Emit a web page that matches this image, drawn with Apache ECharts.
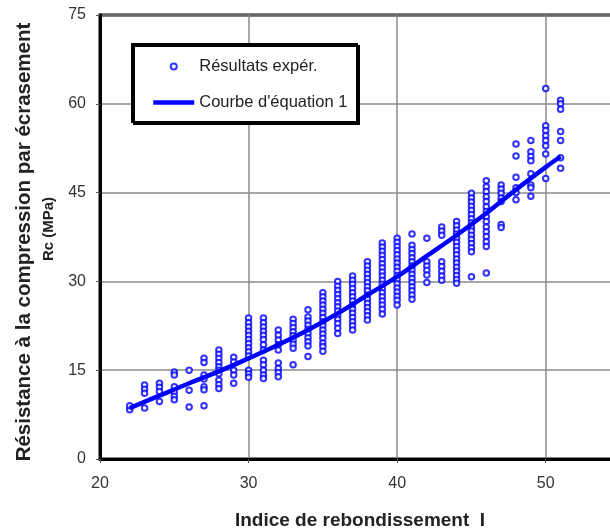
<!DOCTYPE html>
<html>
<head>
<meta charset="utf-8">
<script src="https://cdn.jsdelivr.net/npm/echarts@6/dist/echarts.min.js"></script>
<style>
  html, body { margin: 0; padding: 0; background: #fff; }
  #chart { width: 610px; height: 531px; }
</style>
</head>
<body>
<div id="chart"></div>
<script>
// Rebound index values (I) that were tested
var reboundIndex = [22, 23, 24, 25, 26, 27, 28, 29, 30, 31, 32, 33, 34, 35, 36,
                    37, 38, 39, 40, 41, 42, 43, 44, 45, 46, 47, 48, 49, 50, 51];

// Measured crushing strength Rc (MPa) for each rebound index above
var measuredRc = [
  [8.3, 9.0],
  [12.5, 11.8, 11.1, 8.6],
  [12.8, 12.1, 11.4, 9.7],
  [14.7, 14.2, 12.2, 11.3, 10.6, 10.0],
  [15.0, 11.6, 8.8],
  [17.0, 16.3, 14.2, 13.5, 12.2, 11.7, 9.0],
  [18.4, 17.7, 17.0, 16.3, 15.6, 15.0, 14.4, 13.3, 12.6, 11.9],
  [17.2, 16.4, 15.0, 14.2, 12.8],
  [23.8, 23.0, 22.3, 21.6, 20.9, 20.2, 19.5, 18.8, 18.1, 17.4, 15.0, 14.4, 13.8],
  [23.8, 23.0, 22.3, 21.6, 20.9, 20.2, 19.3, 18.4, 16.7, 15.9, 15.0, 14.2, 13.6],
  [21.8, 20.9, 20.1, 19.3, 18.4, 16.2, 15.3, 14.6, 13.9],
  [23.6, 22.9, 22.2, 21.5, 20.8, 20.1, 19.4, 18.7, 15.9],
  [25.2, 24.0, 23.3, 22.6, 21.9, 21.2, 20.5, 19.8, 19.1, 17.3],
  [28.1, 27.4, 26.7, 26.0, 25.3, 24.6, 23.9, 23.2, 22.5, 21.8, 21.1, 20.4, 19.6, 19.0, 18.2],
  [30.0, 29.2, 28.5, 27.8, 27.1, 26.4, 25.7, 25.0, 24.3, 23.6, 22.9, 22.1, 21.2],
  [30.9, 30.2, 29.5, 28.8, 28.1, 27.4, 26.7, 26.0, 25.3, 24.6, 23.9, 23.2, 22.5, 21.8],
  [33.3, 32.6, 31.9, 31.2, 30.5, 29.8, 29.1, 28.4, 27.7, 27.0, 26.3, 25.6, 24.9, 24.2, 23.5],
  [36.5, 35.8, 35.1, 34.4, 33.7, 33.0, 32.3, 31.6, 30.9, 30.2, 29.5, 28.8, 28.1, 27.4, 26.7, 26.0, 25.3, 24.5],
  [37.3, 36.6, 35.9, 35.2, 34.5, 33.8, 33.1, 32.4, 31.7, 31.0, 30.3, 29.6, 28.9, 28.2, 27.5, 26.8, 26.0],
  [38.0, 36.1, 35.4, 34.7, 34.0, 33.3, 32.6, 31.9, 31.2, 30.5, 29.8, 29.1, 28.4, 27.7, 27.0],
  [37.3, 33.3, 32.6, 31.9, 31.1, 29.8],
  [39.2, 38.5, 37.8, 33.3, 32.5, 31.7, 30.9, 30.2],
  [40.1, 39.4, 38.7, 38.0, 37.3, 36.6, 35.9, 35.2, 34.5, 33.8, 33.1, 32.4, 31.7, 31.0, 30.3, 29.7],
  [44.9, 44.1, 43.4, 42.7, 42.0, 41.3, 40.6, 39.9, 39.2, 38.5, 37.8, 37.1, 36.4, 35.7, 35.0, 30.8],
  [47.0, 46.0, 45.2, 44.3, 43.5, 42.6, 41.8, 40.9, 40.1, 39.2, 38.4, 37.6, 36.7, 35.9, 31.4],
  [46.3, 45.6, 44.9, 44.1, 43.5, 39.6, 39.1],
  [53.2, 51.2, 47.6, 45.8, 45.0, 43.8],
  [53.8, 51.9, 51.1, 50.4, 48.2, 46.3, 45.8, 44.4],
  [62.6, 56.3, 55.5, 54.6, 53.8, 52.9, 51.5, 47.4],
  [60.6, 60.0, 59.1, 55.3, 53.8, 50.9, 49.1]
];

// Points along the fitted curve (equation 1)
var curveIndex = [22, 24, 26, 28, 30, 32, 34, 36, 38, 40, 42, 44, 46, 48, 50, 51];
var curveRc    = [8.6, 10.7, 12.8, 14.8, 17.0, 19.3, 21.8, 24.6, 27.7, 30.8, 34.3, 37.8, 41.5, 45.5, 49.3, 51.1];

// Axis ticks
var xTicks = { min: 20, max: 55, step: 10 };
var yTicks = { min: 0, max: 75, step: 15 };

var scatterData = [];
reboundIndex.forEach(function (idx, i) {
  measuredRc[i].forEach(function (rc) { scatterData.push([idx, rc]); });
});
var curveData = curveIndex.map(function (idx, i) { return [idx, curveRc[i]]; });

var FONT = '"Liberation Sans", Arial, sans-serif';
var BLUE = '#0000ff';

var chart = echarts.init(document.getElementById('chart'), null, { renderer: 'canvas' });
chart.setOption({
  backgroundColor: '#fff',
  animation: false,
  grid: {
    left: 100, top: 15, width: 520, height: 444,
    outerBoundsMode: 'none',
    containLabel: false,
    show: true, borderColor: '#000', borderWidth: 3, backgroundColor: 'transparent'
  },
  xAxis: {
    type: 'value',
    min: xTicks.min, max: xTicks.max, interval: xTicks.step,
    name: 'Indice de rebondissement  I',
    nameLocation: 'middle',
    nameGap: 52,
    nameTextStyle: { fontFamily: FONT, fontSize: 19, fontWeight: 'bold', color: '#222' },
    axisLine: { show: true, onZero: false, lineStyle: { color: '#000', width: 3 } },
    axisTick: { show: true, length: 4, lineStyle: { color: '#555', width: 1 } },
    axisLabel: { fontFamily: FONT, fontSize: 16, color: '#333', margin: 17 },
    splitLine: { show: true, lineStyle: { color: '#8a8a8a', width: 1.5 } }
  },
  yAxis: {
    type: 'value',
    min: yTicks.min, max: yTicks.max, interval: yTicks.step,
    name: '{a|Résistance à la compression par écrasement}\n{b|Rc (MPa)}',
    nameLocation: 'middle',
    nameGap: 38,
    nameTextStyle: {
      fontFamily: FONT, fontWeight: 'bold', color: '#222', fontSize: 16,
      rich: {
        a: { fontFamily: FONT, fontSize: 20.5, fontWeight: 'bold', color: '#222', lineHeight: 24,
             padding: [0, 10, 0, 0] },
        b: { fontFamily: FONT, fontSize: 15, fontWeight: 'bold', color: '#222', lineHeight: 26,
             padding: [0, 0, 0, 16] }
      }
    },
    axisLine: { show: true, onZero: false, lineStyle: { color: '#000', width: 3 } },
    axisTick: { show: true, length: 4, lineStyle: { color: '#555', width: 1 } },
    axisLabel: { fontFamily: FONT, fontSize: 16, color: '#333', margin: 14 },
    splitLine: { show: true, lineStyle: { color: '#8a8a8a', width: 1.5 } }
  },
  legend: {
    orient: 'vertical',
    left: 151, top: 58,
    padding: 0,
    itemWidth: 41, itemHeight: 6, itemGap: 19,
    textStyle: { fontFamily: FONT, fontSize: 16.5, color: '#222' },
    data: [
      { name: 'Résultats expér.', icon: 'emptyCircle' },
      { name: "Courbe d'équation 1", itemStyle: { opacity: 0 }, lineStyle: { width: 4.5, color: BLUE } }
    ],
    z: 10
  },
  graphic: [{
    type: 'rect',
    shape: { x: 132, y: 44, width: 225, height: 78 },
    style: {
      fill: '#fff', stroke: '#000', lineWidth: 2,
      shadowColor: '#000', shadowOffsetX: 2, shadowOffsetY: 2, shadowBlur: 0
    },
    z: 5
  }],
  series: [
    {
      name: 'Résultats expér.',
      type: 'scatter',
      data: scatterData,
      symbol: 'emptyCircle',
      symbolSize: 5.5,
      itemStyle: { color: BLUE, borderColor: BLUE, borderWidth: 1.3 },
      z: 2
    },
    {
      name: "Courbe d'équation 1",
      type: 'line',
      data: curveData,
      smooth: 0.4,
      showSymbol: false,
      symbol: 'none',
      lineStyle: { color: BLUE, width: 4.5 },
      itemStyle: { color: BLUE },
      z: 3
    }
  ]
});
</script>
</body>
</html>
